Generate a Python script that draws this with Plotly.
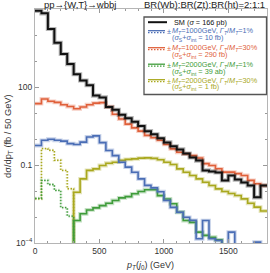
import plotly.graph_objects as go

# ---------------- data ----------------
bin_edges = [i * 50 for i in range(37)]  # 0 .. 1800 GeV, 50 GeV bins

sm = [85000, 68000, 17000, 5010, 1860, 759, 309, 178, 117, 46.8, 39.8, 17.0,
      13.2, 8.51, 6.31, 4.57, 3.16, 2.00, 1.51, 1.07, 0.741, 0.525, 0.398, 0.275,
      0.195, 0.148, 0.0620, 0.0565, 0.0515, 0.0255, 0.0395, 0.0275, 0.0213,
      0.0162, 0.00570, 0.0162]

m1000_w1 = [0.562, 0.891, 0.977, 0.891, 0.832, 0.661, 0.617, 0.759, 1.20, 1.32,
            0.724, 0.363, 0.229, 0.128, 0.0830, 0.0525, 0.0292, 0.0165, 0.0132,
            0.00940, 0.00432, 0.00235, 0.00153, 0.000975, 0.000745, 0.000145,
            0.000730, 0.000145, 0.000124, None, 0.000262, None, None, None,
            0.000108, None]

m1000_w30 = [22.9, 34.7, 28.2, 25.7, 20.9, 17.8, 14.5, 17.0, 20.9, 24.0, 25.1,
             17.4, 8.91, 5.89, 3.72, 2.69, 2.00, 1.38, 1.12, 0.891, 0.617, 0.417,
             0.309, 0.269, 0.229, 0.186, 0.113, 0.0960, 0.0715, 0.0532, 0.0532,
             0.0465, 0.0396, 0.0256, 0.0191, 0.0163]

# M_T = 2000 GeV: negative part (|value|, dotted) for the first 6 bins, positive part after
m2000_w1_neg = [0.00525, 0.0255, 0.0178, 0.0105, 0.00228, 0.00108]
m2000_w1_pos = [0.000730, 0.00133, 0.00187, 0.00224, 0.00275, 0.00337, 0.00432,
                0.00543, 0.00608, 0.00780, 0.00955, 0.0112, 0.0112, 0.00665,
                0.00495, 0.00322, 0.00152, 0.000730, 0.000622, 0.000262,
                0.000196, 0.000167, 0.000132, None, None, None, None, None,
                None, None]

m2000_w30_neg = [0.00503, 0.430, 0.370, 0.152, 0.0620, 0.0122]
m2000_w30_pos = [0.00890, 0.0292, 0.0620, 0.0710, 0.0955, 0.117, 0.128, 0.150,
                 0.164, 0.172, 0.184, 0.188, 0.180, 0.160, 0.128, 0.104, 0.0710,
                 0.0528, 0.0393, 0.0292, 0.0218, 0.0162, 0.0121, 0.00960,
                 0.00800, 0.00667, 0.00497, 0.00338, 0.00240, 0.00170]

x_tick_vals = [0, 500, 1000, 1500]
y_tick_vals = [1e-4, 0.1, 100]
y_tick_text = ["10<sup>\u22124</sup>", "0.1", "100"]
y_minor_vals = [1e-3, 1e-2, 1, 10, 1e3, 1e4]

FLOOR = 1e-7  # used for bins that fall below the visible range

C_SM = "#111111"
C_BLUE = "#4a6db5"
C_ORANGE = "#e0603a"
C_GREEN = "#3f9c3a"
C_YELLOW = "#a9a81e"
DOT = "1.5px,1.5px"

fig = go.Figure()


def add_step(edges, vals, color, width):
    vs = [v if v is not None else FLOOR for v in vals]
    xs, ys = list(edges), vs + [vs[-1]]
    fig.add_trace(go.Scatter(x=xs, y=ys, mode="lines", line_shape="hv",
                             line=dict(color=color, width=width + 2.2),
                             opacity=0.3, hoverinfo="skip", showlegend=False))
    fig.add_trace(go.Scatter(x=xs, y=ys, mode="lines", line_shape="hv",
                             line=dict(color=color, width=width),
                             hoverinfo="skip", showlegend=False))


def add_neg_pos(neg, pos, color):
    n = len(neg)
    xs = bin_edges[:n + 1] + [bin_edges[n]]
    ys = list(neg) + [neg[-1], FLOOR]
    fig.add_trace(go.Scatter(x=xs, y=ys, mode="lines", line_shape="hv",
                             line=dict(color=color, width=3.2, dash=DOT), opacity=0.25,
                             hoverinfo="skip", showlegend=False))
    fig.add_trace(go.Scatter(x=xs, y=ys, mode="lines", line_shape="hv",
                             line=dict(color=color, width=1.3, dash=DOT),
                             hoverinfo="skip", showlegend=False))
    pv = [v if v is not None else FLOOR for v in pos]
    xs2 = [bin_edges[n]] + bin_edges[n:]
    ys2 = [FLOOR] + pv + [pv[-1]]
    fig.add_trace(go.Scatter(x=xs2, y=ys2, mode="lines", line_shape="hv",
                             line=dict(color=color, width=3.8), opacity=0.3,
                             hoverinfo="skip", showlegend=False))
    fig.add_trace(go.Scatter(x=xs2, y=ys2, mode="lines", line_shape="hv",
                             line=dict(color=color, width=1.6),
                             hoverinfo="skip", showlegend=False))


add_neg_pos(m2000_w30_neg, m2000_w30_pos, C_YELLOW)
add_neg_pos(m2000_w1_neg, m2000_w1_pos, C_GREEN)
add_step(bin_edges, m1000_w1, C_BLUE, 1.6)
add_step(bin_edges, m1000_w30, C_ORANGE, 1.6)
add_step(bin_edges, sm, C_SM, 2.0)

FONT = "Liberation Sans, Arial, sans-serif"
AX = "#b5b5b5"

TOP, BOT, LEFT, RIGHT = 9, 243, 35, 267
PW, PH = RIGHT - LEFT, BOT - TOP

fig.update_layout(
    width=270, height=273,
    margin=dict(l=LEFT, r=270 - RIGHT, t=TOP, b=273 - BOT),
    paper_bgcolor="white", plot_bgcolor="white",
    font=dict(family=FONT, size=8.5, color="#333333"),
    showlegend=False,
)
fig.update_xaxes(
    range=[0, 1800], tickvals=x_tick_vals, ticks="inside", ticklen=4,
    tickcolor="#999999", tickwidth=1, showline=True, linecolor=AX, linewidth=1,
    mirror="ticks", showgrid=False, zeroline=False,
    tickfont=dict(size=8.5, color="#333333"),
    minor=dict(dtick=100, ticks="inside", ticklen=2, tickcolor="#999999"),
)
fig.update_yaxes(
    type="log", range=[-4, 5], tickvals=y_tick_vals, ticktext=y_tick_text,
    ticks="inside", ticklen=4, tickcolor="#999999", showline=True, linecolor=AX,
    linewidth=1, mirror="ticks", showgrid=False, zeroline=False,
    tickfont=dict(size=8.5, color="#333333"),
    minor=dict(tickvals=y_minor_vals, ticks="inside", ticklen=2, tickcolor="#999999"),
)


def px(x):
    return (x - LEFT) / PW


def py(y):
    return (BOT - y) / PH


ann = []
ann.append(dict(text="pp\u2192{W,T}\u2192wbbj", x=px(80), y=py(4.5),
                xref="paper", yref="paper", showarrow=False, xanchor="center",
                yanchor="middle", font=dict(size=9.5, color="#222222", family=FONT)))
ann.append(dict(text="BR(Wb):BR(Zt):BR(ht)=2:1:1", x=px(204), y=py(4.5),
                xref="paper", yref="paper", showarrow=False, xanchor="center",
                yanchor="middle", font=dict(size=9.5, color="#222222", family=FONT)))
ann.append(dict(text="d\u03c3/dp<sub>T</sub> (fb / 50 GeV)", x=px(8),
                y=py(136), xref="paper", yref="paper", showarrow=False,
                textangle=-90, xanchor="center", yanchor="middle",
                font=dict(size=9.3, color="#333333", family=FONT)))
ann.append(dict(text="<i>p</i><sub><i>T</i></sub>(<i>j</i><sub>0</sub>) (GeV)",
                x=px(150), y=py(265), xref="paper", yref="paper",
                showarrow=False, xanchor="center", yanchor="middle",
                font=dict(size=9, color="#333333", family=FONT)))

shapes = []
shapes.append(dict(type="rect", xref="paper", yref="paper", x0=px(144), x1=px(266.5),
                   y0=py(94.5), y1=py(17), line=dict(color="#555555", width=1.3),
                   fillcolor="white", layer="above"))
shapes.append(dict(type="line", xref="paper", yref="paper", x0=px(148), x1=px(167),
                   y0=py(22.2), y1=py(22.2), line=dict(color=C_SM, width=2), layer="above"))
ann.append(dict(text="SM (<i>\u03c3</i> = 166 pb)", x=px(172), y=py(22.2), xref="paper",
                yref="paper", showarrow=False, xanchor="left", yanchor="middle",
                font=dict(size=7.3, color="#111111", family=FONT)))

entries = [
    (C_BLUE, "1000", "1%", "10 fb", 31.5),
    (C_ORANGE, "1000", "30%", "290 fb", 48.5),
    (C_GREEN, "2000", "1%", "39 ab", 65),
    (C_YELLOW, "2000", "30%", "1 fb", 80.5),
]
for col, mass, wid, xs_txt, yy in entries:
    shapes.append(dict(type="line", xref="paper", yref="paper", x0=px(148), x1=px(165),
                       y0=py(yy - 0.8), y1=py(yy - 0.8), line=dict(color=col, width=1.3),
                       layer="above"))
    shapes.append(dict(type="line", xref="paper", yref="paper", x0=px(148), x1=px(165),
                       y0=py(yy + 1.2), y1=py(yy + 1.2),
                       line=dict(color=col, width=1.2, dash=DOT), layer="above"))
    ann.append(dict(text="\u00b1", x=px(165.3), y=py(yy + 0.5), xref="paper", yref="paper",
                    showarrow=False, xanchor="left", yanchor="middle",
                    font=dict(size=7.3, color=col, family=FONT)))
    ann.append(dict(text=f"<i>M</i><sub><i>T</i></sub>={mass}GeV, <i>\u0393</i><sub><i>T</i></sub>/<i>M</i><sub><i>T</i></sub>={wid}",
                    x=px(170.3), y=py(yy), xref="paper", yref="paper", showarrow=False,
                    xanchor="left", yanchor="middle",
                    font=dict(size=7.3, color=col, family=FONT)))
    ann.append(dict(text=f"(<i>\u03c3</i><sub>S</sub>+<i>\u03c3</i><sub>int</sub> = {xs_txt})",
                    x=px(170.3), y=py(yy + 6.5), xref="paper", yref="paper", showarrow=False,
                    xanchor="left", yanchor="middle",
                    font=dict(size=7.3, color=col, family=FONT)))

fig.update_layout(annotations=ann, shapes=shapes)
fig.write_html("out.html", config={"displayModeBar": False, "staticPlot": True})

# remove the browser's default page margin so the figure sits at the window's corner
with open("out.html", encoding="utf-8") as f:
    html = f.read()
html = html.replace("<head>", "<head><style>html,body{margin:0;padding:0;overflow:hidden;}</style>", 1)
with open("out.html", "w", encoding="utf-8") as f:
    f.write(html)
